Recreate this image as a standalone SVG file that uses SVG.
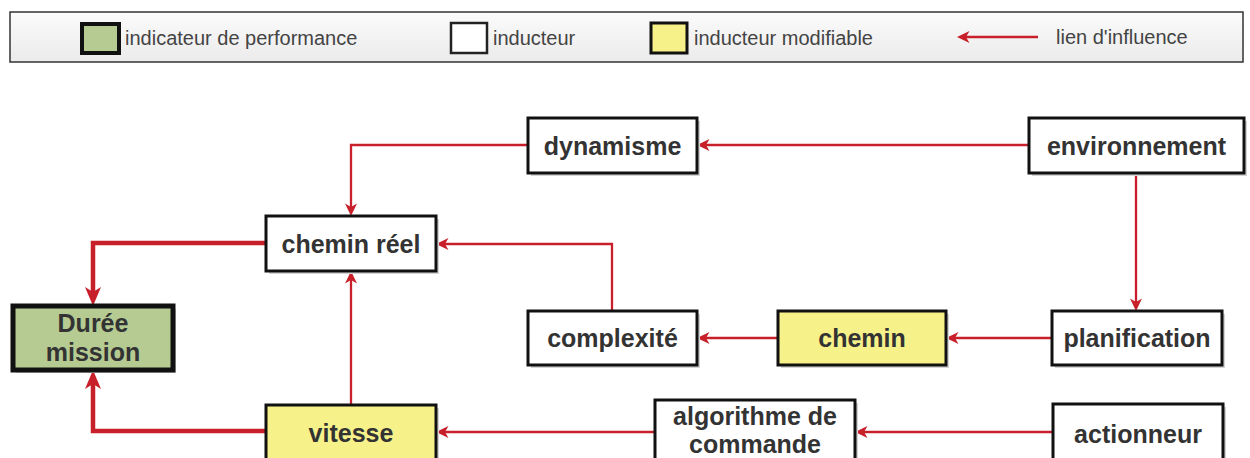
<svg xmlns="http://www.w3.org/2000/svg" width="1250" height="458" viewBox="0 0 1250 458">
<defs>
<linearGradient id="lg" x1="0" y1="0" x2="0" y2="1">
<stop offset="0" stop-color="#fbfbfb"/>
<stop offset="1" stop-color="#ebebeb"/>
</linearGradient>
<marker id="ah" markerUnits="userSpaceOnUse" viewBox="-5 -7 15 14" markerWidth="15" markerHeight="14" refX="0" refY="0" orient="auto">
<path d="M9,0 L-3.5,-6 L0,0 L-3.5,6 Z" fill="#c8202a"/>
</marker>
<marker id="ahb" markerUnits="userSpaceOnUse" viewBox="-7 -9 22 18" markerWidth="22" markerHeight="18" refX="0" refY="0" orient="auto">
<path d="M14,0 L-5,-8 L0,0 L-5,8 Z" fill="#c8202a"/>
</marker>
</defs>
<style>
.box{stroke:#111;stroke-width:3;fill:#fff}
.yel{fill:#f7f18a}
.grn{fill:#b5cb92;stroke-width:5}
.sh{fill:#d4d4d4;stroke:none}
.t{font-family:"Liberation Sans",Arial,sans-serif;font-weight:bold;font-size:25px;fill:#333;text-anchor:middle}
.lt{font-family:"Liberation Sans",Arial,sans-serif;font-size:20px;fill:#444}
.c{fill:none;stroke:#c8202a;stroke-width:2.3}
.cb{fill:none;stroke:#c8202a;stroke-width:4.5}
</style>
<rect width="1250" height="458" fill="#fff"/>
<g id="legend">
<rect x="10" y="12" width="1233" height="50" fill="url(#lg)" stroke="#333" stroke-width="1.5"/>
<rect x="82" y="24" width="37" height="29" fill="#b5cb92" stroke="#111" stroke-width="4"/>
<text class="lt" x="125" y="45">indicateur de performance</text>
<rect x="451" y="23" width="36" height="30" fill="#fff" stroke="#222" stroke-width="2.5"/>
<text class="lt" x="493" y="45">inducteur</text>
<rect x="651" y="23" width="36" height="30" fill="#f7f18a" stroke="#111" stroke-width="3"/>
<text class="lt" x="694" y="45">inducteur modifiable</text>
<path class="c" d="M1038,37 H966" marker-end="url(#ah)"/>
<text class="lt" x="1056" y="44">lien d'influence</text>
</g>
<g id="connectors">
<path class="c" d="M1029,145 H706" marker-end="url(#ah)"/>
<path class="c" d="M528,145 H351 V207" marker-end="url(#ah)"/>
<path class="c" d="M1136,173 V302" marker-end="url(#ah)"/>
<path class="c" d="M1052,338 H955" marker-end="url(#ah)"/>
<path class="c" d="M778,338 H706" marker-end="url(#ah)"/>
<path class="c" d="M612,311 V244 H445" marker-end="url(#ah)"/>
<path class="c" d="M1053,432 H864" marker-end="url(#ah)"/>
<path class="c" d="M655,432 H445" marker-end="url(#ah)"/>
<path class="c" d="M351,405 V280" marker-end="url(#ah)"/>
<path class="cb" d="M266,243 H93 V292" marker-end="url(#ahb)"/>
<path class="cb" d="M266,431 H93 V384" marker-end="url(#ahb)"/>
</g>
<g id="dynamisme">
<rect class="sh" x="531" y="121" width="169" height="55"/>
<rect class="box" x="528" y="118" width="169" height="55"/>
<text class="t" x="612.5" y="154.5">dynamisme</text>
</g>
<g id="environnement">
<rect class="sh" x="1032" y="121" width="215" height="55"/>
<rect class="box" x="1029" y="118" width="215" height="55"/>
<text class="t" x="1136.5" y="154.5">environnement</text>
</g>
<g id="chemin-reel">
<rect class="sh" x="269" y="219" width="170" height="55"/>
<rect class="box" x="266" y="216" width="170" height="55"/>
<text class="t" x="351" y="252.5">chemin réel</text>
</g>
<g id="duree-mission">
<rect class="sh" x="16" y="309" width="160" height="64"/>
<rect class="box grn" x="13" y="306" width="160" height="64"/>
<text class="t" x="93" y="332">Durée</text>
<text class="t" x="93" y="361">mission</text>
</g>
<g id="complexite">
<rect class="sh" x="531" y="314" width="169" height="54"/>
<rect class="box" x="528" y="311" width="169" height="54"/>
<text class="t" x="612.5" y="347">complexité</text>
</g>
<g id="chemin">
<rect class="sh" x="781" y="314" width="168" height="54"/>
<rect class="box yel" x="778" y="311" width="168" height="54"/>
<text class="t" x="862" y="347">chemin</text>
</g>
<g id="planification">
<rect class="sh" x="1055" y="314" width="170" height="54"/>
<rect class="box" x="1052" y="311" width="170" height="54"/>
<text class="t" x="1137" y="347">planification</text>
</g>
<g id="vitesse">
<rect class="sh" x="269" y="408" width="170" height="70"/>
<rect class="box yel" x="266" y="405" width="170" height="70"/>
<text class="t" x="351" y="442">vitesse</text>
</g>
<g id="algorithme">
<rect class="sh" x="658" y="403" width="200" height="70"/>
<rect class="box" x="655" y="400" width="200" height="70"/>
<text class="t" x="755" y="425">algorithme de</text>
<text class="t" x="755" y="453">commande</text>
</g>
<g id="actionneur">
<rect class="sh" x="1056" y="407" width="170" height="70"/>
<rect class="box" x="1053" y="404" width="170" height="70"/>
<text class="t" x="1138" y="443">actionneur</text>
</g>
</svg>
